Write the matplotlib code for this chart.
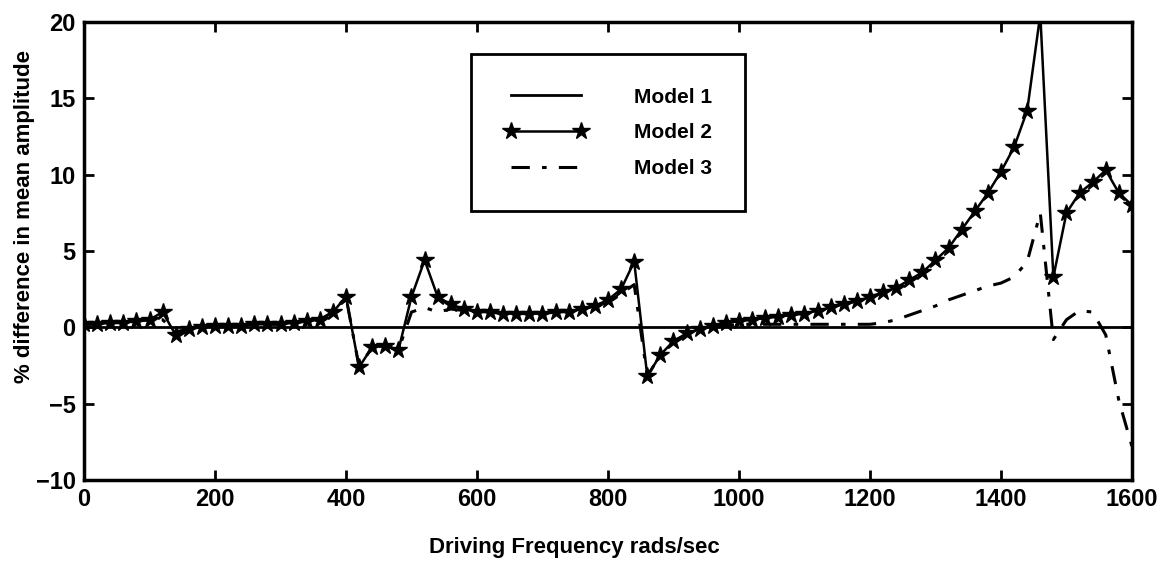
import matplotlib.pyplot as plt
import numpy as np

# driving frequency, rads/sec
freq = np.arange(0, 1601, 20)

# % difference in mean amplitude
model1 = [0.0] * len(freq)

model2 = [0.2, 0.2, 0.3, 0.3, 0.4, 0.5, 1.0, -0.5, -0.1, 0.0,
          0.1, 0.1, 0.1, 0.2, 0.2, 0.2, 0.3, 0.4, 0.5, 1.0,
          2.0, -2.6, -1.3, -1.2, -1.5, 2.0, 4.4, 2.0, 1.5, 1.2,
          1.0, 1.0, 0.9, 0.9, 0.9, 0.9, 1.0, 1.0, 1.2, 1.4,
          1.8, 2.5, 4.3, -3.2, -1.8, -0.9, -0.4, -0.1, 0.1, 0.3,
          0.4, 0.5, 0.6, 0.7, 0.8, 0.9, 1.1, 1.3, 1.5, 1.7,
          2.0, 2.3, 2.6, 3.1, 3.6, 4.4, 5.2, 6.4, 7.6, 8.8,
          10.2, 11.8, 14.2, 20.5, 3.3, 7.5, 8.8, 9.5, 10.3, 8.8,
          8.0]

model3 = [0.2, 0.2, 0.3, 0.3, 0.4, 0.5, 0.5, -0.3, -0.1, 0.0,
          0.1, 0.1, 0.1, 0.2, 0.2, 0.2, 0.3, 0.4, 0.5, 1.0,
          2.0, -2.6, -1.3, -1.2, -1.5, 1.0, 1.3, 1.0, 1.2, 1.1,
          1.0, 1.0, 0.9, 0.9, 0.9, 0.9, 1.0, 1.0, 1.2, 1.4,
          1.7, 2.2, 2.8, -3.2, -1.8, -0.9, -0.5, -0.2, 0.0, 0.1,
          0.2, 0.2, 0.2, 0.2, 0.2, 0.2, 0.2, 0.2, 0.2, 0.2,
          0.2, 0.3, 0.5, 0.8, 1.1, 1.4, 1.8, 2.1, 2.4, 2.7,
          2.9, 3.3, 4.3, 7.5, -0.8, 0.5, 1.1, 1.0, -0.5, -4.8,
          -7.8]

xticks = [0, 200, 400, 600, 800, 1000, 1200, 1400, 1600]
yticks = [-10, -5, 0, 5, 10, 15, 20]

plt.rcParams['font.family'] = ['Liberation Sans', 'DejaVu Sans']
plt.rcParams['font.weight'] = 'bold'

fig = plt.figure(figsize=(11.7, 5.69), dpi=100)
ax = fig.add_axes([0.0718, 0.1564, 0.8957, 0.8049])

ax.plot(freq, model1, color='black', lw=2.0, label='Model 1')
ax.plot(freq, model2, color='black', lw=1.8, marker='*', markersize=13,
        label='Model 2')
ax.plot(freq, model3, color='black', lw=2.2, linestyle=(0, (6, 4, 1.5, 4)),
        label='Model 3')

ax.set_xlim(0, 1600)
ax.set_ylim(-10, 20)
ax.set_xticks(xticks)
ax.set_yticks(yticks)
ax.tick_params(direction='in', top=True, right=True, length=7, width=2,
               labelsize=17, pad=6)
for s in ax.spines.values():
    s.set_linewidth(2.5)

ax.set_xlabel('Driving Frequency rads/sec', fontsize=16, fontweight='bold')
ax.set_ylabel('% difference in mean amplitude', fontsize=16, fontweight='bold')
ax.xaxis.set_label_coords(0.4676, -0.125)
ax.yaxis.set_label_coords(-0.047, 0.575)

leg = ax.legend(loc='center', bbox_to_anchor=(0.5, 0.758), fontsize=15,
                frameon=True, fancybox=False, framealpha=1, edgecolor='black',
                borderpad=1.6, handlelength=4.0, handletextpad=2.2,
                labelspacing=0.8, numpoints=2, borderaxespad=0)
leg.get_frame().set_linewidth(2)

fig.savefig('out.png', dpi=100)
